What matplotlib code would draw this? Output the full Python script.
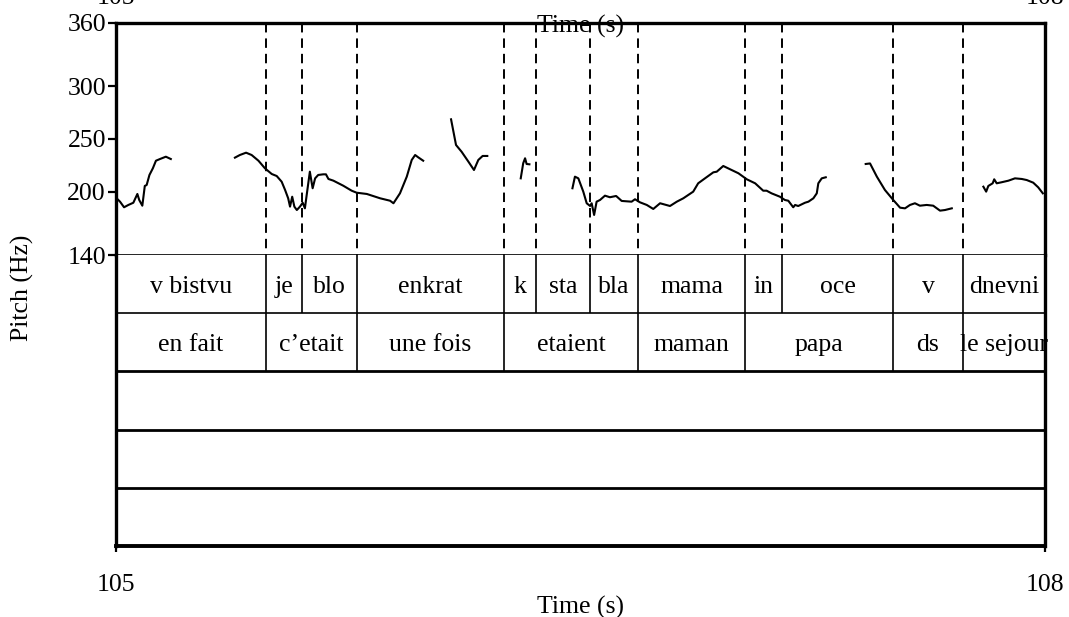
import matplotlib
matplotlib.use('Agg')
import matplotlib.pyplot as plt

plt.rcParams['font.family'] = ['Liberation Serif', 'DejaVu Serif']
plt.rcParams['lines.scale_dashes'] = False

# ---------------- data ----------------
t_min, t_max = 105, 108
f_min, f_max = 140, 360
pitch_ticks = [140, 200, 250, 300, 360]
time_ticks = [105, 108]
time_tick_labels = ['105', '108']

seg1_t = [105.002, 105.013, 105.026, 105.040, 105.056, 105.069, 105.075, 105.085,
          105.093, 105.099, 105.108, 105.119, 105.129, 105.142, 105.161, 105.177]
seg1_f = [193.7, 190.5, 185.2, 187.4, 189.5, 197.8, 192.1, 186.7,
          205.4, 206.3, 215.8, 222.1, 229.3, 230.9, 233.1, 230.9]

seg2_t = [105.384, 105.400, 105.420, 105.438, 105.460, 105.481, 105.503, 105.519,
          105.535, 105.546, 105.556, 105.562, 105.569, 105.576, 105.584, 105.594,
          105.603, 105.610, 105.618, 105.626, 105.635, 105.643, 105.653, 105.669,
          105.678, 105.686, 105.702, 105.734, 105.761, 105.777, 105.810, 105.853,
          105.885, 105.896, 105.917, 105.939, 105.955, 105.966, 105.976, 105.992]
seg2_f = [232.2, 234.7, 236.9, 234.7, 229.3, 222.1, 216.7, 214.8,
          209.4, 201.6, 193.7, 185.8, 195.2, 185.8, 182.6, 185.8,
          189.5, 184.2, 201.6, 218.9, 203.2, 212.6, 215.8, 216.4,
          216.4, 212.0, 210.4, 205.6, 200.9, 199.0, 197.8, 193.7,
          191.4, 189.0, 198.4, 214.2, 230.0, 234.7, 232.5, 229.3]

seg3_t = [106.082, 106.098, 106.116, 106.138, 106.156, 106.170, 106.184, 106.199]
seg3_f = [268.5, 244.2, 237.8, 228.4, 220.5, 230.0, 233.8, 233.8]

seg4_t = [106.307, 106.315, 106.321, 106.326, 106.335]
seg4_f = [212.6, 226.9, 231.6, 226.2, 225.9]

seg5_t = [106.474, 106.482, 106.493, 106.509, 106.520, 106.531, 106.536, 106.544,
          106.552, 106.563, 106.579, 106.595, 106.615, 106.633, 106.665, 106.676,
          106.692, 106.714, 106.735, 106.757, 106.789, 106.811, 106.832, 106.864,
          106.880, 106.902, 106.929, 106.940, 106.961, 106.983, 107.010, 107.037,
          107.064, 107.090, 107.101, 107.117, 107.144, 107.160, 107.171, 107.187,
          107.193, 107.203, 107.225, 107.236, 107.252, 107.263, 107.268, 107.279,
          107.292]
seg5_f = [203.2, 214.2, 212.6, 200.0, 189.0, 186.4, 189.0, 177.9,
          190.5, 192.1, 196.2, 194.7, 195.9, 191.2, 190.5, 192.8,
          189.9, 187.4, 183.6, 189.0, 186.4, 190.5, 193.7, 200.0,
          207.9, 212.6, 218.3, 218.9, 224.3, 221.2, 217.4, 211.7,
          207.9, 200.9, 200.9, 198.4, 195.2, 192.1, 191.4, 185.2,
          187.4, 186.4, 189.5, 190.5, 193.7, 198.4, 207.9, 212.6,
          213.6]

seg6_t = [107.421, 107.435, 107.457, 107.483, 107.510, 107.532, 107.548, 107.564,
          107.580, 107.596, 107.618, 107.639, 107.661, 107.677, 107.699]
seg6_f = [226.2, 226.7, 214.2, 201.6, 192.1, 184.8, 184.2, 187.4,
          189.0, 186.7, 187.4, 186.7, 182.0, 182.6, 184.2]

seg7_t = [107.801, 107.810, 107.817, 107.831, 107.836, 107.844, 107.860, 107.882,
          107.903, 107.925, 107.941, 107.962, 107.978, 107.993]
seg7_f = [204.7, 200.0, 205.4, 207.9, 211.7, 207.9, 208.9, 210.4,
          212.6, 212.0, 211.0, 208.5, 204.1, 198.4]

tier1_bounds = [105.484, 105.601, 105.778, 106.253, 106.356, 106.531,
                106.686, 107.031, 107.151, 107.509, 107.735]
tier1_labels = ['v bistvu', 'je', 'blo', 'enkrat', 'k', 'sta', 'bla',
                'mama', 'in', 'oce', 'v', 'dnevni']
tier2_bounds = [105.484, 105.778, 106.253, 106.686, 107.031, 107.509, 107.735]
tier2_labels = ['en fait', 'c\u2019etait', 'une fois', 'etaient', 'maman',
                'papa', 'ds', 'le sejour']
n_tiers = 5
x_label = 'Time (s)'
y_label = 'Pitch (Hz)'

# ---------------- figure ----------------
W_PX, H_PX = 1069, 617
fig = plt.figure(figsize=(W_PX / 100, H_PX / 100), dpi=100)


def fx(px):
    return px / W_PX


def fy(py):
    return 1 - py / H_PX


LEFT, RIGHT = 116, 1045
TOP, MID, BOT = 22.7, 255, 546
FS = 18.5
THICK = 2.4

ax_p = fig.add_axes([fx(LEFT), fy(MID), fx(RIGHT) - fx(LEFT), fy(TOP) - fy(MID)])
ax_t = fig.add_axes([fx(LEFT), fy(BOT), fx(RIGHT) - fx(LEFT), fy(MID) - fy(BOT)])

# pitch panel
ax_p.set_xlim(t_min, t_max)
ax_p.set_ylim(f_min, f_max)
for ts, fs in [(seg1_t, seg1_f), (seg2_t, seg2_f), (seg3_t, seg3_f), (seg4_t, seg4_f),
               (seg5_t, seg5_f), (seg6_t, seg6_f), (seg7_t, seg7_f)]:
    ax_p.plot(ts, fs, color='black', lw=1.5, solid_joinstyle='round', zorder=3)
for b in tier1_bounds:
    ax_p.plot([b, b], [f_max, f_min], color='black', lw=1.4,
              linestyle=(0, (6.8, 4.3)), zorder=2, clip_on=False)

ax_p.set_xticks([])
ax_p.set_yticks(pitch_ticks)
ax_p.set_yticklabels([str(v) for v in pitch_ticks])
ax_p.tick_params(axis='y', direction='out', length=6, width=1.6, pad=1.2,
                 labelsize=FS)
for s in ['top', 'left', 'right']:
    ax_p.spines[s].set_linewidth(THICK)
    ax_p.spines[s].set_zorder(10)
ax_p.spines['bottom'].set_linewidth(1.2)

# tiers panel
ax_t.set_xlim(t_min, t_max)
ax_t.set_ylim(0, n_tiers)
ax_t.set_yticks([])
ax_t.spines['top'].set_visible(False)
for s in ['left', 'right']:
    ax_t.spines[s].set_linewidth(THICK)
    ax_t.spines[s].set_zorder(10)
ax_t.spines['bottom'].set_linewidth(2.8)
ax_t.spines['bottom'].set_zorder(10)

ax_t.axhline(n_tiers - 1, color='black', lw=1.2)
for k in range(1, n_tiers - 1):
    ax_t.axhline(k, color='black', lw=2.0)

ax_t.vlines(tier1_bounds, n_tiers - 1, n_tiers, color='black', lw=1.2)
ax_t.vlines(tier2_bounds, n_tiers - 2, n_tiers - 1, color='black', lw=1.2)


def put_labels(bounds, labels, ycen):
    edges = [t_min] + list(bounds) + [t_max]
    for i, lab in enumerate(labels):
        xc = (edges[i] + edges[i + 1]) / 2
        ax_t.text(xc, ycen, lab, ha='center', va='center_baseline', fontsize=FS,
                  zorder=4)


put_labels(tier1_bounds, tier1_labels, n_tiers - 0.5)
put_labels(tier2_bounds, tier2_labels, n_tiers - 1.5)

ax_t.set_xticks(time_ticks)
ax_t.set_xticklabels(time_tick_labels)
ax_t.tick_params(axis='x', direction='out', length=4, width=1.6, pad=16,
                 labelsize=FS)
ax_t.set_xlabel(x_label, fontsize=FS, labelpad=0)

# y label
fig.text(fx(22), fy(288), y_label, rotation=90, ha='center', va='center',
         fontsize=FS)

# top axis texts (partly clipped as in the original)
fig.text(fx(LEFT), fy(4), time_tick_labels[0], ha='center', va='baseline', fontsize=FS)
fig.text(fx(RIGHT), fy(4), time_tick_labels[1], ha='center', va='baseline', fontsize=FS)
fig.text(fx((LEFT + RIGHT) / 2), fy(33), x_label, ha='center', va='baseline',
         fontsize=FS, zorder=20)

fig.savefig('out.png', dpi=100)
